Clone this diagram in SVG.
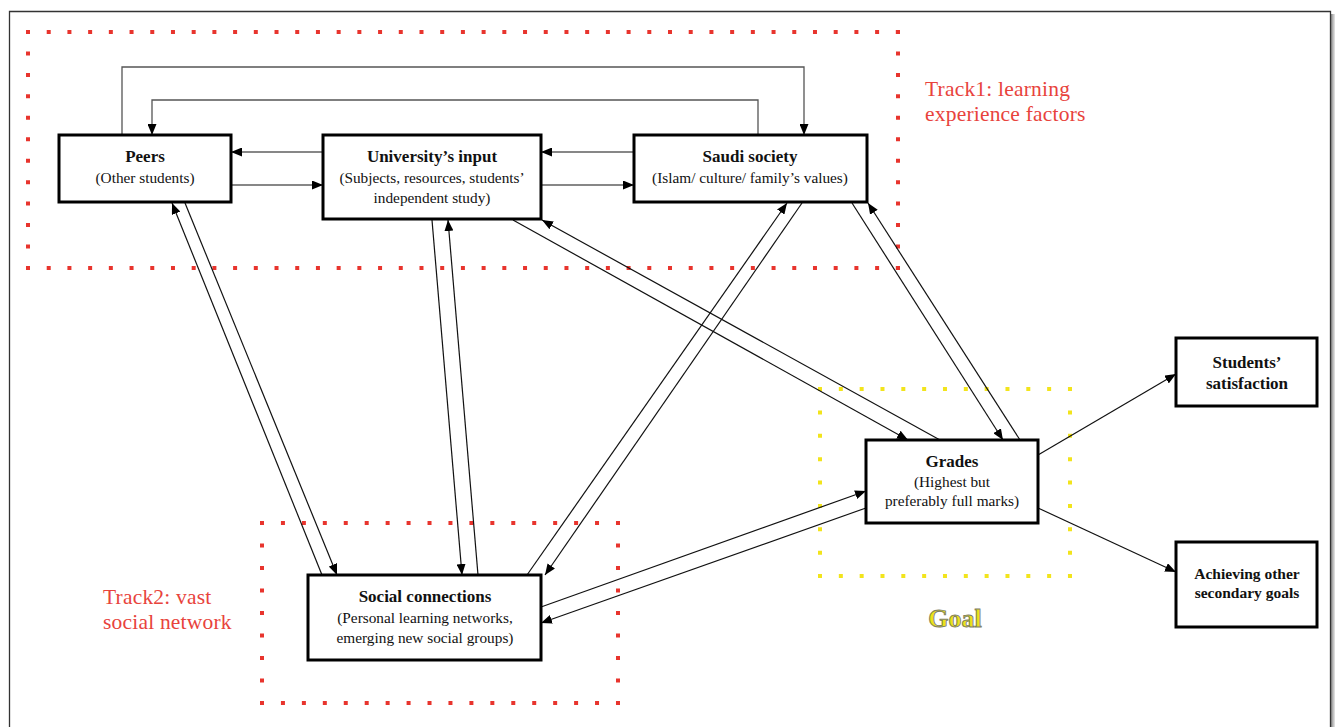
<svg xmlns="http://www.w3.org/2000/svg" width="1335" height="727" viewBox="0 0 1335 727">
  <style>
    .box { fill: #ffffff; stroke: #000000; stroke-width: 3; }
    .title { font-family: "Liberation Serif", "Times New Roman", serif; font-weight: bold; font-size: 17px; fill: #111; text-anchor: middle; }
    .sub { font-family: "Liberation Serif", "Times New Roman", serif; font-size: 15.3px; fill: #111; text-anchor: middle; }
    .small-title { font-family: "Liberation Serif", "Times New Roman", serif; font-weight: bold; font-size: 15.5px; fill: #111; text-anchor: middle; }
    .track { font-family: "Liberation Serif", "Times New Roman", serif; font-size: 21.5px; letter-spacing: 0.2px; fill: #e8433c; }
    .goal { font-family: "Liberation Serif", "Times New Roman", serif; font-weight: bold; font-size: 26px; fill: #ece21a; stroke: #7d7d66; stroke-width: 0.9; text-anchor: middle; }
    .conn { fill: none; stroke: #111; stroke-width: 1.2; }
    .loop { fill: none; stroke: #555; stroke-width: 1.3; }
    .red { stroke: #e8342d; stroke-width: 4; fill: none; }
    .yel { stroke: #f2e41c; stroke-width: 4; fill: none; }
  </style>
  <defs>
    <marker id="arrow" markerUnits="userSpaceOnUse" markerWidth="11" markerHeight="9" refX="11" refY="4.5" orient="auto">
      <path d="M0,0 L11,4.5 L0,9 z" fill="#000"/>
    </marker>
    <linearGradient id="shadow" x1="0" x2="1" y1="0" y2="0">
      <stop offset="0" stop-color="#888"/>
      <stop offset="1" stop-color="#e8e8e8"/>
    </linearGradient>
  </defs>

  <rect width="1335" height="727" fill="#ffffff"/>

  <!-- page frame -->
  <g id="page">
    <rect x="1331" y="14" width="4" height="713" fill="url(#shadow)"/>
    <path d="M9.5,727 V11.5 H1330.5 V727" fill="none" stroke="#333" stroke-width="1.3"/>
  </g>

  <!-- dotted grouping frames -->
  <g id="track1-frame">
    <line class="red" x1="26" y1="32" x2="900" y2="32" stroke-dasharray="4 16.71"/>
    <line class="red" x1="26" y1="268" x2="900" y2="268" stroke-dasharray="4 16.71"/>
    <line class="red" x1="28" y1="30" x2="28" y2="270" stroke-dasharray="4 17.45"/>
    <line class="red" x1="898" y1="30" x2="898" y2="270" stroke-dasharray="4 17.45"/>
  </g>
  <g id="track2-frame">
    <line class="red" x1="260" y1="523" x2="620" y2="523" stroke-dasharray="4 16.94"/>
    <line class="red" x1="260" y1="703" x2="620" y2="703" stroke-dasharray="4 16.94"/>
    <line class="red" x1="262" y1="521" x2="262" y2="705" stroke-dasharray="4 18.5"/>
    <line class="red" x1="618" y1="521" x2="618" y2="705" stroke-dasharray="4 18.5"/>
  </g>
  <g id="goal-frame">
    <line class="yel" x1="818" y1="389" x2="1072" y2="389" stroke-dasharray="4 16.83"/>
    <line class="yel" x1="818" y1="576" x2="1072" y2="576" stroke-dasharray="4 16.83"/>
    <line class="yel" x1="820" y1="387" x2="820" y2="578" stroke-dasharray="4 19.38"/>
    <line class="yel" x1="1070" y1="387" x2="1070" y2="578" stroke-dasharray="4 19.38"/>
  </g>

  <!-- connectors -->
  <g id="connectors">
    <path class="loop" d="M122,135 V67 H804 V135" marker-end="url(#arrow)"/>
    <path class="loop" d="M758,135 V100 H152 V135" marker-end="url(#arrow)"/>

    <line class="conn" x1="323" y1="152" x2="231" y2="152" marker-end="url(#arrow)"/>
    <line class="conn" x1="231" y1="185" x2="323" y2="185" marker-end="url(#arrow)"/>
    <line class="conn" x1="634" y1="152" x2="541" y2="152" marker-end="url(#arrow)"/>
    <line class="conn" x1="541" y1="185" x2="634" y2="185" marker-end="url(#arrow)"/>

    <line class="conn" x1="322" y1="575" x2="172" y2="203" marker-end="url(#arrow)"/>
    <line class="conn" x1="185" y1="203" x2="337" y2="575" marker-end="url(#arrow)"/>

    <line class="conn" x1="432" y1="220" x2="462" y2="575" marker-end="url(#arrow)"/>
    <line class="conn" x1="478" y1="575" x2="448" y2="220" marker-end="url(#arrow)"/>

    <line class="conn" x1="527" y1="575" x2="787" y2="203" marker-end="url(#arrow)"/>
    <line class="conn" x1="802" y1="203" x2="545" y2="575" marker-end="url(#arrow)"/>

    <line class="conn" x1="513" y1="220" x2="908" y2="440" marker-end="url(#arrow)"/>
    <line class="conn" x1="940" y1="440" x2="542" y2="220" marker-end="url(#arrow)"/>

    <line class="conn" x1="852" y1="203" x2="1003" y2="440" marker-end="url(#arrow)"/>
    <line class="conn" x1="1020" y1="440" x2="868" y2="203" marker-end="url(#arrow)"/>

    <line class="conn" x1="541" y1="607" x2="866" y2="491" marker-end="url(#arrow)"/>
    <line class="conn" x1="866" y1="508" x2="541" y2="623" marker-end="url(#arrow)"/>

    <line class="conn" x1="1038" y1="455" x2="1176" y2="374" marker-end="url(#arrow)"/>
    <line class="conn" x1="1038" y1="508" x2="1176" y2="572" marker-end="url(#arrow)"/>
  </g>

  <!-- nodes -->
  <g id="peers">
    <rect class="box" x="59" y="135" width="172" height="67"/>
    <text class="title" x="145" y="162">Peers</text>
    <text class="sub" x="145" y="183">(Other students)</text>
  </g>
  <g id="university-input">
    <rect class="box" x="323" y="135" width="218" height="84"/>
    <text class="title" x="432" y="162">University’s input</text>
    <text class="sub" x="432" y="183">(Subjects, resources, students’</text>
    <text class="sub" x="432" y="203">independent study)</text>
  </g>
  <g id="saudi-society">
    <rect class="box" x="634" y="135" width="233" height="67"/>
    <text class="title" x="750" y="162">Saudi society</text>
    <text class="sub" x="750" y="183">(Islam/ culture/ family’s values)</text>
  </g>
  <g id="social-connections">
    <rect class="box" x="308" y="575" width="233" height="85"/>
    <text class="title" x="425" y="602">Social connections</text>
    <text class="sub" x="425" y="623">(Personal learning networks,</text>
    <text class="sub" x="425" y="643">emerging new social groups)</text>
  </g>
  <g id="grades">
    <rect class="box" x="866" y="440" width="172" height="83"/>
    <text class="title" x="952" y="467">Grades</text>
    <text class="sub" x="952" y="487">(Highest but</text>
    <text class="sub" x="952" y="506">preferably full marks)</text>
  </g>
  <g id="students-satisfaction">
    <rect class="box" x="1176" y="338" width="141" height="68"/>
    <text class="title" x="1247" y="368">Students’</text>
    <text class="title" x="1247" y="389">satisfaction</text>
  </g>
  <g id="secondary-goals">
    <rect class="box" x="1176" y="542" width="141" height="85"/>
    <text class="small-title" x="1247" y="579">Achieving other</text>
    <text class="small-title" x="1247" y="598">secondary goals</text>
  </g>

  <!-- group labels -->
  <g id="labels">
    <text class="track" x="925" y="96">Track1: learning</text>
    <text class="track" x="925" y="121">experience factors</text>
    <text class="track" x="103" y="604">Track2: vast</text>
    <text class="track" x="103" y="629">social network</text>
    <text class="goal" x="955" y="627">Goal</text>
  </g>
</svg>
